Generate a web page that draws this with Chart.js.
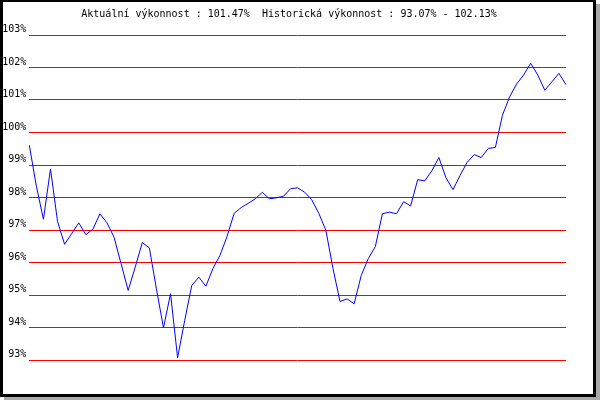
<!DOCTYPE html>
<html>
<head>
<meta charset="utf-8">
<script src="https://cdn.jsdelivr.net/npm/chart.js@4/dist/chart.umd.min.js"></script>
<style>
  body { margin: 0; background: #fff; }
  #frame {
    position: absolute; left: 0; top: 0;
    width: 596px; height: 397px; box-sizing: border-box;
    border: 2px solid #000; border-left-width: 3px; border-right-width: 3px; border-bottom-width: 3px;
    background: #fff; box-shadow: 4px 4px 0 #a9a9a9;
  }
  #wrap { position: absolute; left: 0; top: 0; width: 600px; height: 400px; }
</style>
</head>
<body>
<div id="frame"></div>
<div id="wrap"><canvas id="myChart" width="600" height="400"></canvas></div>
<script>
// Chart title parts
const currentPerf = '101.47%';
const histMin = '93.07%';
const histMax = '102.13%';

// y axis range (percent)
const yTicks = [93, 94, 95, 96, 97, 98, 99, 100, 101, 102, 103];

// performance values, one per period
const perfValues = [
    99.61, 98.35, 97.33, 98.88, 97.26, 96.56, 96.89, 97.22, 96.86, 97.02,
    97.50, 97.22, 96.78, 95.96, 95.14, 95.86, 96.61, 96.45, 95.19, 93.99,
    95.04, 93.07, 94.21, 95.29, 95.55, 95.27, 95.81, 96.22, 96.80, 97.51,
    97.69, 97.82, 97.96, 98.16, 97.96, 97.99, 98.04, 98.27, 98.30, 98.16,
    97.93, 97.51, 96.99, 95.82, 94.80, 94.88, 94.73, 95.60, 96.12, 96.49,
    97.50, 97.55, 97.50, 97.87, 97.74, 98.55, 98.51, 98.82, 99.23, 98.61,
    98.24, 98.68, 99.08, 99.32, 99.23, 99.51, 99.54, 100.53, 101.09, 101.49,
    101.77, 102.13, 101.77, 101.30, 101.56, 101.82, 101.47
];

const periods = perfValues.map((v, i) => i + 1);

const ctx = document.getElementById('myChart').getContext('2d');

const myChart = new Chart(ctx, {
    type: 'line',
    data: {
        labels: periods,
        datasets: [{
            data: perfValues,
            borderColor: '#0000ff',
            borderWidth: 1,
            pointRadius: 0,
            tension: 0,
            fill: false,
            yAxisID: 'y'
        }]
    },
    options: {
        responsive: false,
        animation: false,
        layout: {
            padding: { left: 0, right: 22, top: 0, bottom: 40 }
        },
        plugins: {
            legend: { display: false },
            tooltip: { enabled: false },
            title: {
                display: true,
                text: 'Aktuální výkonnost : ' + currentPerf + '  Historická výkonnost : ' + histMin + ' - ' + histMax,
                color: '#000',
                font: { family: 'DejaVu Sans Mono', size: 10, weight: 'normal', lineHeight: 1.2 },
                padding: { top: 8, bottom: 15 }
            }
        },
        scales: {
            x: {
                display: false,
                offset: false
            },
            y: {
                position: 'left',
                min: yTicks[0],
                max: yTicks[yTicks.length - 1],
                afterFit: (scale) => { scale.width = 29.3; },
                afterBuildTicks: (scale) => {
                    scale.ticks = yTicks.map(v => ({ value: v }));
                },
                border: { display: false },
                grid: {
                    color: '#ff0000',
                    lineWidth: 1,
                    drawTicks: false
                },
                ticks: {
                    padding: 3,
                    color: '#000',
                    font: { family: 'DejaVu Sans Mono', size: 10, lineHeight: 1.1 },
                    // two-line label lifts the text above its grid line
                    callback: (value) => [value + '%', '']
                }
            },
            // empty right margin so the title centres like the original
            yRight: {
                position: 'right',
                display: true,
                min: yTicks[0],
                max: yTicks[yTicks.length - 1],
                afterFit: (scale) => { scale.width = 12; },
                border: { display: false },
                grid: { display: false },
                ticks: { display: false }
            }
        }
    }
});
</script>
</body>
</html>
